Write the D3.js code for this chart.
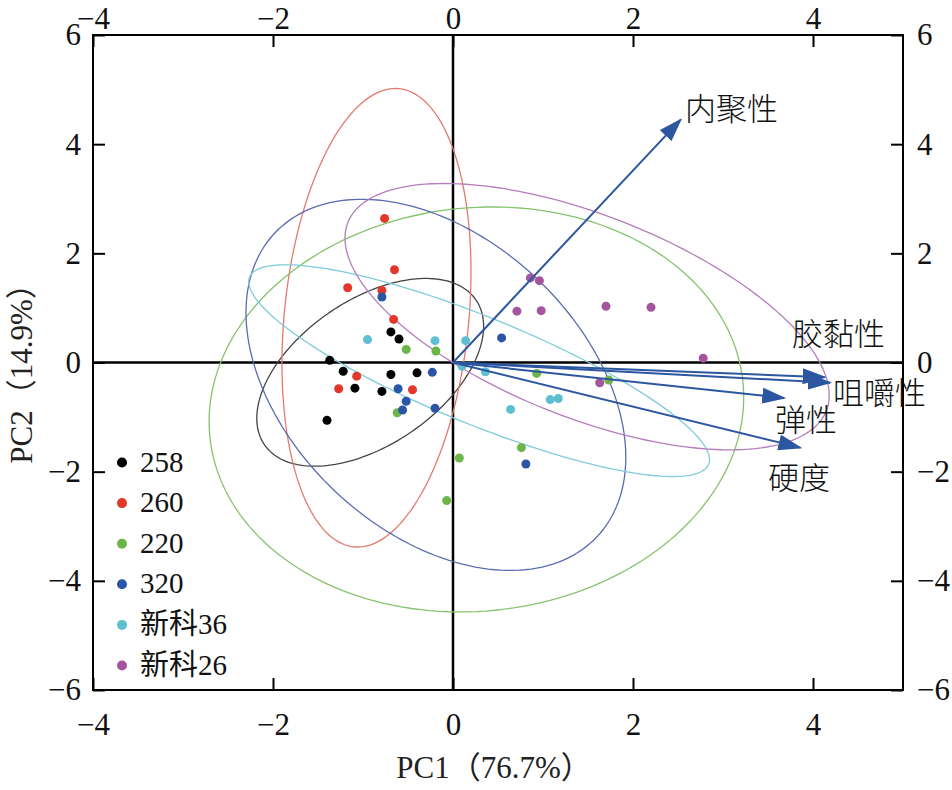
<!DOCTYPE html>
<html>
<head>
<meta charset="utf-8">
<script src="https://cdn.jsdelivr.net/npm/d3@7"></script>
<style>
  body { margin: 0; background: #fff; }
  text { font-family: "Liberation Serif", "Noto Sans CJK SC", serif; }
  .cn { font-family: "Noto Sans CJK SC", sans-serif; font-weight: 300; }
</style>
</head>
<body>
<div id="main"></div>
<script>
// groups and their colours
var groups = ["258", "260", "220", "320", "新科36", "新科26"];
var dotColors = ["#000000", "#e2382c", "#6cb548", "#2b55a6", "#5dbfcf", "#a3559e"];
var ringColors = ["#444444", "#e47a6c", "#85c46e", "#5a6cb0", "#7fcbdc", "#b57dbd"];

// sample scores [PC1, PC2] per group
var pts258 = [[-0.69, 0.56], [-0.60, 0.43], [-1.37, 0.04], [-1.22, -0.16], [-0.69, -0.22],
              [-0.40, -0.19], [-1.09, -0.47], [-0.79, -0.53], [-1.40, -1.06]];
var pts260 = [[-0.76, 2.64], [-0.65, 1.70], [-1.17, 1.37], [-0.79, 1.32], [-0.66, 0.79],
              [-1.07, -0.25], [-1.27, -0.48], [-0.45, -0.50]];
var pts220 = [[-0.52, 0.24], [-0.19, 0.21], [-0.62, -0.92], [0.93, -0.20], [1.73, -0.32],
              [0.76, -1.56], [0.07, -1.75], [-0.07, -2.53]];
var pts320 = [[-0.79, 1.20], [-0.23, -0.18], [-0.61, -0.48], [-0.52, -0.71], [-0.56, -0.87],
              [-0.20, -0.84], [0.54, 0.45], [0.81, -1.86]];
var ptsXk36 = [[-0.95, 0.42], [-0.20, 0.40], [0.14, 0.40], [0.10, -0.07], [0.36, -0.17],
               [1.08, -0.68], [1.17, -0.66], [0.64, -0.86]];
var ptsXk26 = [[0.86, 1.55], [0.96, 1.50], [0.71, 0.94], [0.98, 0.95], [1.70, 1.03],
               [2.20, 1.01], [1.63, -0.37], [2.78, 0.08]];
var groupPoints = [pts258, pts260, pts220, pts320, ptsXk36, ptsXk26];

// confidence ellipses: centre, half-range on PC1, half-range on PC2, correlation
var ellCx = [-0.92, -0.85, 0.26, -0.19, 0.29, 1.49];
var ellCy = [-0.18, 0.82, -0.86, -0.41, -0.15, 0.84];
var ellSx = [1.26, 1.05, 2.97, 2.11, 2.56, 2.69];
var ellSy = [1.72, 4.20, 3.71, 3.40, 1.94, 2.44];
var ellR = [0.49, 0.20, 0.06, -0.39, -0.84, -0.59];

// loadings
var varNames = ["内聚性", "胶黏性", "咀嚼性", "弹性", "硬度"];
var loadX = [2.53, 4.13, 4.19, 3.68, 3.86];
var loadY = [4.45, -0.27, -0.37, -0.65, -1.56];

var xTicks = [-4, -2, 0, 2, 4];
var yTicks = [-6, -4, -2, 0, 2, 4, 6];

var width = 952, height = 790;
var padL = 93, padR = 903, padT = 35, padB = 690;

var svg = d3.select("#main").append("svg")
  .attr("width", width)
  .attr("height", height);

var x = d3.scaleLinear().domain([-4, 5]).range([padL, padR]);
var y = d3.scaleLinear().domain([-6, 6]).range([padB, padT]);

var plot = svg.append("g");

// zero lines
plot.append("line")
  .attr("x1", padL).attr("x2", padR)
  .attr("y1", y(0)).attr("y2", y(0))
  .attr("stroke", "#000").attr("stroke-width", 2.5);
plot.append("line")
  .attr("x1", x(0)).attr("x2", x(0))
  .attr("y1", padT).attr("y2", padB)
  .attr("stroke", "#000").attr("stroke-width", 2.5);

// ellipses
var line = d3.line().x(function (d) { return x(d[0]); }).y(function (d) { return y(d[1]); });
var angles = d3.range(0, 2 * Math.PI + 0.01, Math.PI / 90);
groups.forEach(function (g, i) {
  var ring = angles.map(function (t) {
    return [ellCx[i] + ellSx[i] * Math.cos(t),
            ellCy[i] + ellSy[i] * (ellR[i] * Math.cos(t) + Math.sqrt(1 - ellR[i] * ellR[i]) * Math.sin(t))];
  });
  plot.append("path")
    .attr("d", line(ring))
    .attr("fill", "none")
    .attr("stroke", ringColors[i])
    .attr("stroke-width", 1.3);
});

// points
groups.forEach(function (g, i) {
  plot.append("g").selectAll("circle")
    .data(groupPoints[i])
    .enter().append("circle")
    .attr("cx", function (d) { return x(d[0]); })
    .attr("cy", function (d) { return y(d[1]); })
    .attr("r", 4.5)
    .attr("fill", dotColors[i]);
});

// loading arrows
var arrowColor = "#2d56a0";
svg.append("defs").append("marker")
  .attr("id", "head")
  .attr("markerUnits", "userSpaceOnUse")
  .attr("viewBox", "0 0 24 16")
  .attr("refX", 22).attr("refY", 8)
  .attr("markerWidth", 24).attr("markerHeight", 16)
  .attr("orient", "auto")
  .append("path")
  .attr("d", "M0,0 L24,8 L0,16 Z")
  .attr("fill", arrowColor);

varNames.forEach(function (n, i) {
  plot.append("line")
    .attr("x1", x(0)).attr("y1", y(0))
    .attr("x2", x(loadX[i])).attr("y2", y(loadY[i]))
    .attr("stroke", arrowColor)
    .attr("stroke-width", 2)
    .attr("marker-end", "url(#head)");
});

var labelPos = [[685, 120], [792, 345], [833, 404], [775, 431], [768, 489]];
plot.selectAll("text.var")
  .data(varNames)
  .enter().append("text")
  .attr("class", "cn")
  .attr("x", function (d, i) { return labelPos[i][0]; })
  .attr("y", function (d, i) { return labelPos[i][1]; })
  .attr("font-size", 31)
  .attr("fill", "#111")
  .text(function (d) { return d; });

// frame and axes
svg.append("rect")
  .attr("x", padL).attr("y", padT)
  .attr("width", padR - padL).attr("height", padB - padT)
  .attr("fill", "none").attr("stroke", "#000").attr("stroke-width", 2);

function styleAxis(g) {
  g.select(".domain").remove();
  g.selectAll(".tick line").attr("stroke", "#000").attr("stroke-width", 2);
  g.selectAll(".tick text").attr("font-size", 31).attr("fill", "#111")
    .attr("font-family", "Liberation Serif");
}

svg.append("g").attr("transform", "translate(0," + padB + ")")
  .call(d3.axisBottom(x).tickValues(xTicks).tickSizeInner(-12).tickPadding(23))
  .call(styleAxis);
svg.append("g").attr("transform", "translate(0," + padT + ")")
  .call(d3.axisTop(x).tickValues(xTicks).tickSizeInner(-12).tickPadding(6))
  .call(styleAxis);
svg.append("g").attr("transform", "translate(" + padL + ",0)")
  .call(d3.axisLeft(y).tickValues(yTicks).tickSizeInner(-12).tickPadding(12))
  .call(styleAxis);
svg.append("g").attr("transform", "translate(" + padR + ",0)")
  .call(d3.axisRight(y).tickValues(yTicks).tickSizeInner(-12).tickPadding(14))
  .call(styleAxis);

// axis titles
svg.append("text")
  .attr("x", 494).attr("y", 778)
  .attr("text-anchor", "middle")
  .attr("font-size", 31)
  .attr("fill", "#222")
  .text("PC1（76.7%）");
svg.append("text")
  .attr("transform", "translate(32,366) rotate(-90)")
  .attr("text-anchor", "middle")
  .attr("font-size", 31)
  .attr("fill", "#222")
  .text("PC2（14.9%）");

// legend
var legend = svg.append("g").selectAll("g")
  .data(groups)
  .enter().append("g")
  .attr("transform", function (d, i) { return "translate(122," + (462.5 + i * 40.6) + ")"; });
legend.append("circle")
  .attr("r", 5)
  .attr("fill", function (d, i) { return dotColors[i]; });
legend.append("text")
  .attr("x", 18).attr("y", 9)
  .attr("font-size", 29)
  .attr("fill", "#111")
  .text(function (d) { return d; });
</script>
</body>
</html>
